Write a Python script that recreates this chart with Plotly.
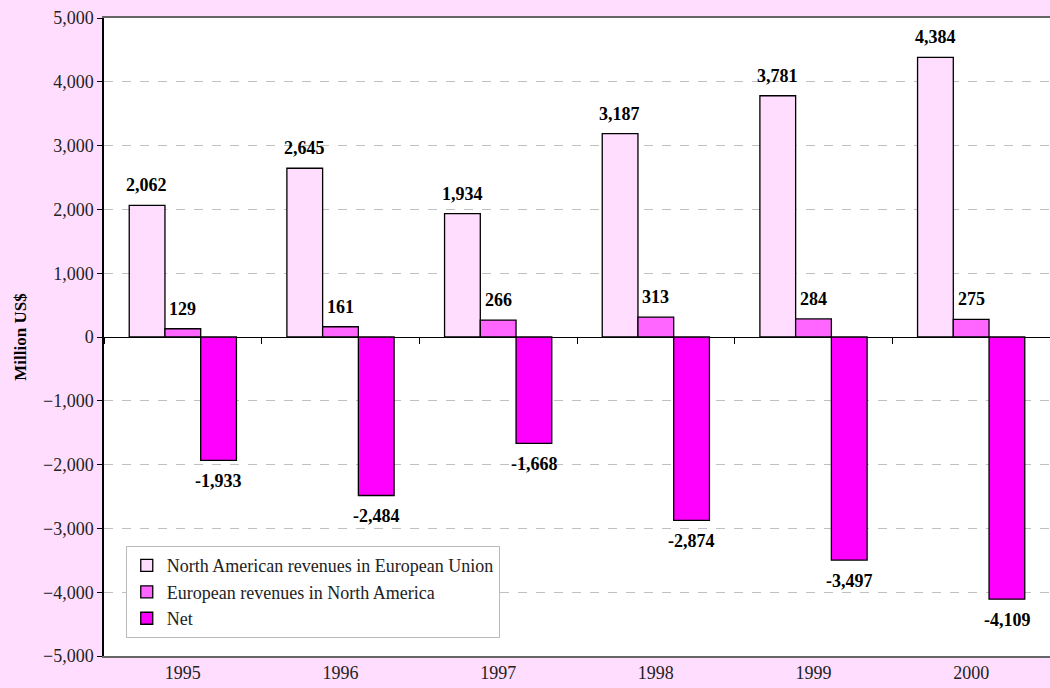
import plotly.graph_objects as go

years = ["1995", "1996", "1997", "1998", "1999", "2000"]
na_in_eu = [2062, 2645, 1934, 3187, 3781, 4384]
eu_in_na = [129, 161, 266, 313, 284, 275]
net = [-1933, -2484, -1668, -2874, -3497, -4109]

series_names = [
    "North American revenues in European Union",
    "European revenues in North America",
    "Net",
]
colors = ["#FFDDFF", "#FF66FF", "#FF00FF"]
bg = "#FFDDFF"
font_family = "Liberation Serif"

fig = go.Figure()
for name, vals, col in zip(series_names, [na_in_eu, eu_in_na, net], colors):
    fig.add_trace(go.Bar(
        x=years, y=vals, name=name,
        marker=dict(color=col, line=dict(color="black", width=1.3)),
        hoverinfo="x+y",
    ))

# invisible trace so the zero-line tick axis gets the categories
fig.add_trace(go.Scatter(x=years, y=[0] * len(years), xaxis="x2", mode="none",
                         showlegend=False, hoverinfo="skip"))

# value labels (bar offset in px: three bars of ~36px each per group)
annotations = []
for k, vals in enumerate([na_in_eu, eu_in_na, net]):
    for i, v in enumerate(vals):
        annotations.append(dict(
            x=i, y=v, xref="x", yref="y",
            text="<b>{:,}</b>".format(v),
            showarrow=False, xshift=(k - 1) * 36,
            yshift=20 if v >= 0 else -21,
            yanchor="middle",
            font=dict(size=18, color="black", family=font_family),
        ))

fig.update_layout(
    width=1050, height=688,
    margin=dict(l=104, r=0, t=18, b=32),
    paper_bgcolor=bg, plot_bgcolor="white",
    barmode="group", bargap=0.32, bargroupgap=0,
    font=dict(family=font_family, size=18, color="#222"),
    annotations=annotations,
    legend=dict(
        x=0.023, y=0.172, xanchor="left", yanchor="top",
        bgcolor="white", bordercolor="#BBBBBB", borderwidth=1,
        font=dict(family=font_family, size=18, color="#222"), tracegroupgap=0,
        itemwidth=30,
    ),
    xaxis=dict(
        type="category", range=[-0.5, 5.5],
        showline=True, linecolor="#666", linewidth=1.5, mirror=True,
        ticks="", showgrid=False,
        tickfont=dict(family=font_family, size=18, color="#222"),
    ),
    xaxis2=dict(
        type="category", overlaying="x", anchor="free", position=0.5,
        range=[-0.5, 5.5], tickson="boundaries", ticks="outside",
        ticklen=6, tickcolor="black", showticklabels=False,
        showline=False, showgrid=False,
    ),
    yaxis=dict(
        range=[-5000, 5000], dtick=1000, tickformat=",",
        showline=True, linecolor="black", linewidth=1.5,
        ticks="outside", ticklen=5, tickcolor="black",
        showgrid=True, gridcolor="#C0C0C0", griddash="dash", gridwidth=1,
        zeroline=True, zerolinecolor="black", zerolinewidth=1.3,
        tickfont=dict(family=font_family, size=18, color="#222"),
        title=dict(text="<b>Million US$</b>",
                   font=dict(family=font_family, size=17, color="black"),
                   standoff=12),
    ),
)

fig.write_html("out.html", config={"displayModeBar": False},
               post_script="document.body.style.margin='0';")
